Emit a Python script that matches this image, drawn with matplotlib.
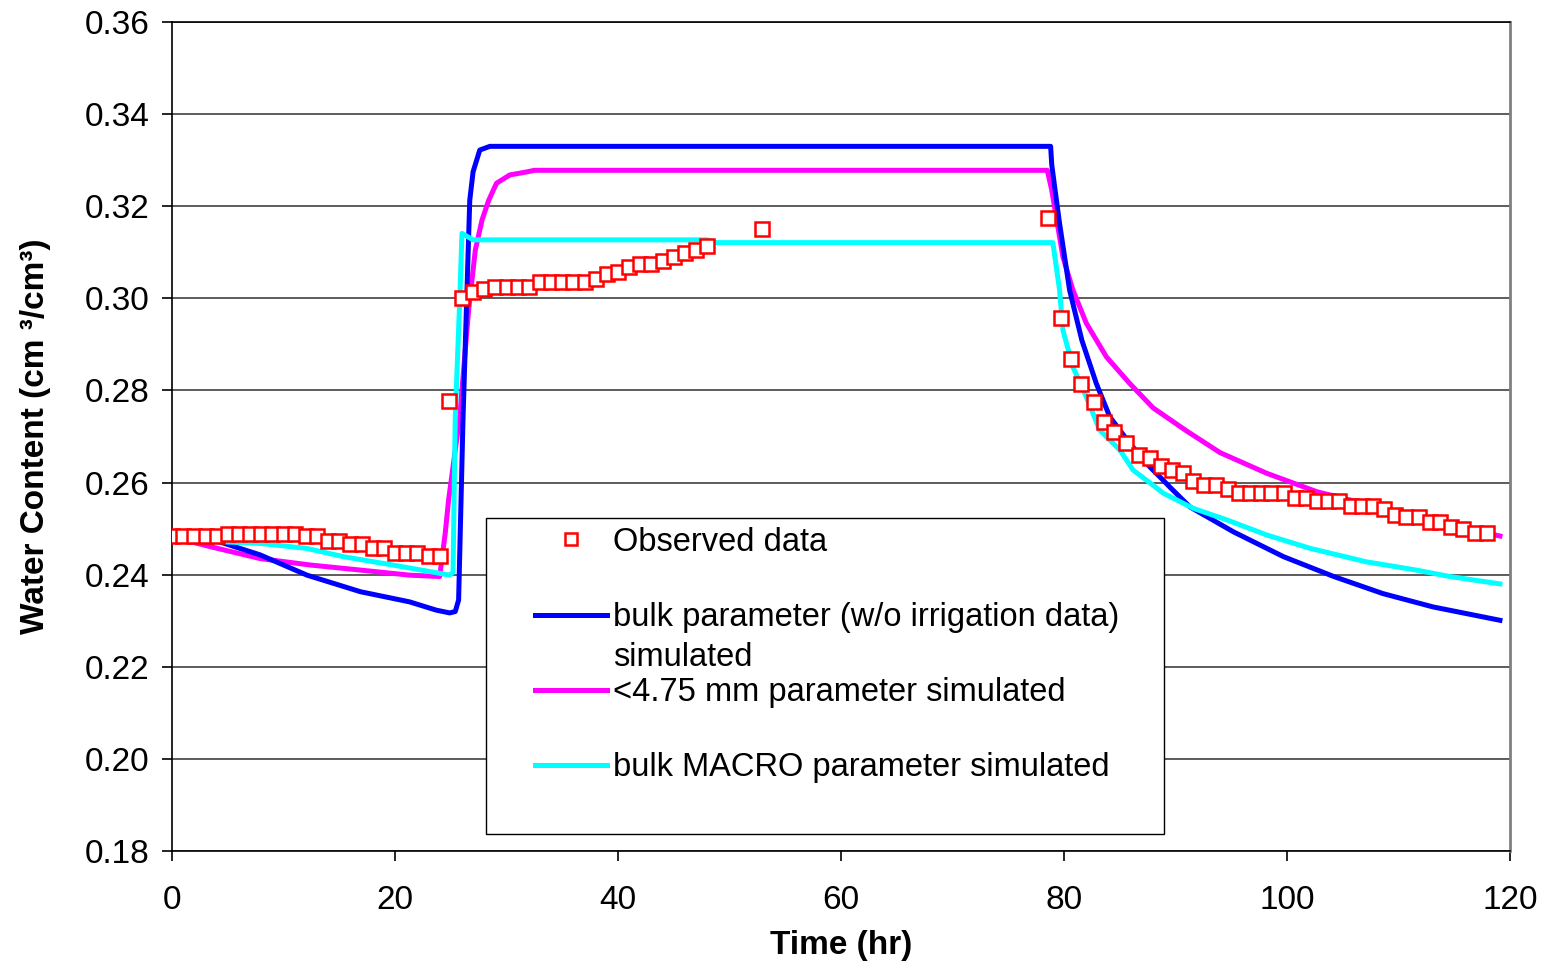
import matplotlib as mpl
import matplotlib.pyplot as plt
import matplotlib.ticker as ticker
from matplotlib.patches import Rectangle

mpl.rcParams['font.family'] = ['Liberation Sans', 'DejaVu Sans']

# Observed data (hourly readings)
obs_x = [0, 1, 2, 3, 4, 5, 6, 7, 8, 9, 10, 11, 12, 13, 14, 15, 16, 17, 18, 19,
         20, 21, 22, 23, 24,
         24.8, 26, 27, 28, 29, 30, 31, 32, 33, 34, 35, 36, 37, 38, 39, 40, 41,
         42, 43, 44, 45, 46, 47, 48, 52.9,
         78.6, 79.7, 80.6, 81.5, 82.7, 83.6, 84.5, 85.6, 86.7, 87.7, 88.7, 89.7,
         90.7, 91.6, 92.6, 93.6, 94.7, 95.7, 96.7, 97.7, 98.6, 99.7, 100.7,
         101.7, 102.7, 103.7, 104.7, 105.7, 106.7, 107.7, 108.7, 109.7, 110.7,
         111.8, 112.8, 113.7, 114.7, 115.8, 116.9, 117.9]
obs_y = [0.2483, 0.2483, 0.2483, 0.2483, 0.2483, 0.2489, 0.2489, 0.2489, 0.2489,
         0.2489, 0.2489, 0.2489, 0.2485, 0.2483, 0.2474, 0.2474, 0.2467, 0.2467,
         0.2458, 0.2458, 0.2447, 0.2447, 0.2447, 0.2440, 0.2440,
         0.2777, 0.3001, 0.3013, 0.3020, 0.3024, 0.3024, 0.3024, 0.3024, 0.3036,
         0.3036, 0.3036, 0.3036, 0.3036, 0.3043, 0.3053, 0.3058, 0.3069, 0.3075,
         0.3075, 0.3081, 0.3089, 0.3098, 0.3105, 0.3114, 0.3150,
         0.3174, 0.2958, 0.2868, 0.2814, 0.2776, 0.2732, 0.2709, 0.2687, 0.2659,
         0.2653, 0.2637, 0.2627, 0.2621, 0.2604, 0.2595, 0.2595, 0.2587, 0.2577,
         0.2577, 0.2577, 0.2577, 0.2577, 0.2566, 0.2566, 0.2561, 0.2561, 0.2561,
         0.2549, 0.2549, 0.2549, 0.2542, 0.2529, 0.2526, 0.2526, 0.2515, 0.2515,
         0.2504, 0.2500, 0.2491, 0.2491]

# bulk parameter (w/o irrigation data) simulated
bulk_x = [0, 4.3, 7.9, 12.1, 16.9, 21.3, 23.7, 24.9, 25.4, 25.7, 26.1, 26.7,
          27.0, 27.6, 28.5, 78.8, 78.9, 79.2, 79.6, 80.5, 81.6, 82.9, 84.1, 85.9,
          87.7, 88.9, 89.5, 91.3, 95.2, 99.7, 104.2, 108.6, 113.1, 119.1]
bulk_y = [0.2482, 0.2471, 0.2443, 0.2399, 0.2363, 0.2341, 0.2323, 0.2317,
          0.2320, 0.2345, 0.2743, 0.3213, 0.3275, 0.3322, 0.3330, 0.3330,
          0.3290, 0.3235, 0.3163, 0.3018, 0.2909, 0.2815, 0.2743, 0.2685,
          0.2634, 0.2605, 0.2590, 0.2547, 0.2493, 0.2439, 0.2396, 0.2359,
          0.2330, 0.2301]

# <4.75 mm parameter simulated
fine_x = [0, 3.4, 7.9, 12.4, 16.9, 21.3, 24.0, 24.5, 24.8, 25.8, 26.6, 27.2,
          27.8, 28.4, 29.1, 30.3, 31.7, 32.5, 78.5, 78.9, 79.9, 80.8, 82.0,
          83.8, 85.9, 88.0, 91.0, 94.0, 98.2, 102.7, 105.7, 110.0, 115.0, 119.1]
fine_y = [0.2482, 0.2461, 0.2435, 0.2421, 0.2410, 0.2399, 0.2396, 0.2490,
          0.2562, 0.2743, 0.2975, 0.3105, 0.3170, 0.3213, 0.3250, 0.3268,
          0.3274, 0.3278, 0.3278, 0.3235, 0.3090, 0.3018, 0.2946, 0.2873,
          0.2815, 0.2762, 0.2712, 0.2665, 0.2620, 0.2580, 0.2562, 0.2535,
          0.2505, 0.2484]

# bulk MACRO parameter simulated
macro_x = [0, 4.9, 7.9, 12.1, 15.4, 19.8, 24.0, 24.9, 25.2, 25.4, 25.8, 26.0,
           27.0, 48.0, 48.8, 79.0, 79.6, 79.9, 80.8, 82.0, 83.2, 85.0, 86.2,
           88.0, 88.9, 91.6, 94.6, 98.2, 102.1, 107.1, 111.6, 114.6, 119.1]
macro_y = [0.2482, 0.2471, 0.2468, 0.2457, 0.2439, 0.2421, 0.2403, 0.2399,
           0.2405, 0.2743, 0.2996, 0.3141, 0.3127, 0.3127, 0.3121, 0.3121,
           0.3018, 0.2931, 0.2851, 0.2786, 0.2714, 0.2671, 0.2627, 0.2594,
           0.2577, 0.2544, 0.2519, 0.2486, 0.2457, 0.2428, 0.2410, 0.2396,
           0.2380]

fig = plt.figure(figsize=(15.53, 9.65), dpi=100)
ax = fig.add_axes([0.1108, 0.1181, 0.8615, 0.8591])

ax.plot(obs_x, obs_y, 's', ms=10, mfc='white', mec='#FF0000', mew=1.8,
        label='Observed data', zorder=5)
ax.plot(bulk_x, bulk_y, color='#0000FF', lw=3.6,
        label='bulk parameter (w/o irrigation data)', zorder=3)
ax.plot(fine_x, fine_y, color='#FF00FF', lw=3.6,
        label='<4.75 mm parameter simulated', zorder=2)
ax.plot(macro_x, macro_y, color='#00FFFF', lw=3.6,
        label='bulk MACRO parameter simulated', zorder=4)

ax.set_xlim(0, 120)
ax.set_ylim(0.18, 0.36)
ax.xaxis.set_major_locator(ticker.MultipleLocator(20))
ax.yaxis.set_major_locator(ticker.MultipleLocator(0.02))
ax.yaxis.set_major_formatter(ticker.FormatStrFormatter('%.2f'))
ax.grid(axis='y', color='#303030', lw=1.1)
ax.set_axisbelow(True)

for s in ['left', 'bottom', 'top']:
    ax.spines[s].set_color('black')
    ax.spines[s].set_linewidth(1.2)
ax.spines['right'].set_color('#808080')
ax.spines['right'].set_linewidth(2)

ax.tick_params(direction='out', length=7.5, width=1.2, labelsize=24)
ax.tick_params(axis='x', pad=17)
ax.tick_params(axis='y', pad=9)

ax.set_xlabel('Time (hr)', fontsize=24, fontweight='bold', labelpad=10)
ax.set_ylabel('Water Content (cm \u00b3/cm\u00b3)', fontsize=24,
              fontweight='bold', labelpad=24)

# legend box (Excel style, square corners)
ax.add_patch(Rectangle((0.2347, 0.0205), 0.5067, 0.3812, transform=ax.transAxes,
                       facecolor='white', edgecolor='black', lw=1.0, zorder=8))

leg = ax.legend(loc='upper left', bbox_to_anchor=(0.2713, 0.3910),
                fontsize=23.5, frameon=False, handlelength=2.2,
                handletextpad=0.2, labelspacing=1.35, borderpad=0,
                borderaxespad=0, markerscale=0.9)
leg.set_zorder(10)

# second line of the blue entry, placed under its label
ax.annotate('simulated', xy=(0, 0), xycoords=leg.get_texts()[1],
            xytext=(0, -28.8), textcoords='offset points',
            ha='left', va='bottom', fontsize=23.5, zorder=11)

plt.savefig('out.png', dpi=100)
